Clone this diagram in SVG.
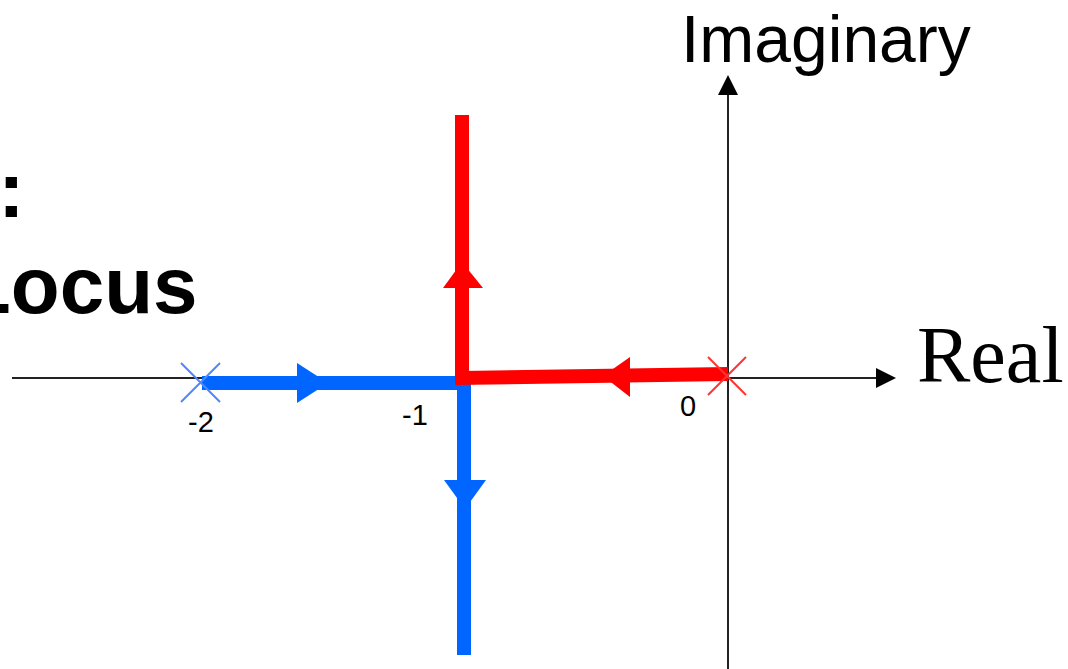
<svg xmlns="http://www.w3.org/2000/svg" width="1068" height="669" viewBox="0 0 1068 669">
<style>
.axis{stroke:#222;stroke-width:2;fill:none}
.ah{fill:#000}
.blue{stroke:#0066ff;stroke-width:14;fill:none;stroke-linecap:butt;stroke-linejoin:miter}
.red{stroke:#ff0000;stroke-width:14;fill:none;stroke-linecap:butt;stroke-linejoin:miter}
.bfill{fill:#0066ff}
.rfill{fill:#ff0000}
.tick{font-family:"Liberation Sans",Arial,sans-serif;font-size:29px;fill:#000}
</style>
<rect width="1068" height="669" fill="#fff"/>
<g id="axes">
  <line class="axis" x1="12" y1="378" x2="878" y2="378"/>
  <polygon class="ah" points="896,378 876,368 876,388"/>
  <line class="axis" x1="728" y1="669" x2="728" y2="92"/>
  <polygon class="ah" points="728,75 718,95 738,95"/>
</g>
<g id="title">
  <text x="-2" y="217" font-family="Liberation Sans,Arial,sans-serif" font-weight="bold" font-size="80" fill="#000">:</text>
  <text x="-38" y="313" font-family="Liberation Sans,Arial,sans-serif" font-weight="bold" font-size="80" fill="#000">Locus</text>
</g>
<g id="connectors">
  <g id="blue-locus">
    <polyline class="blue" points="202,383 464,383 464,655"/>
    <polygon class="bfill" points="297,363 328,383 297,403"/>
    <polygon class="bfill" points="444,480 486,480 465,509"/>
  </g>
  <g id="red-locus">
    <polyline class="red" points="728,374 462,378 462,115"/>
    <polygon class="rfill" points="603,376 630,357 630,397"/>
    <polygon class="rfill" points="443,288 483,288 462,262"/>
  </g>
</g>
<g id="pole-minus2">
  <path d="M181,363 L220,402 M220,363 L181,402" stroke="#4d88ff" stroke-width="2" fill="none"/>
</g>
<g id="pole-0">
  <path d="M708,357 L746,395 M746,357 L708,395" stroke="#ff3333" stroke-width="2" fill="none"/>
</g>
<g id="labels">
  <text class="tick" x="201" y="432" text-anchor="middle">-2</text>
  <text class="tick" x="415" y="425" text-anchor="middle">-1</text>
  <text class="tick" x="688" y="416" text-anchor="middle">0</text>
  <text x="681" y="62" font-family="Liberation Sans,Arial,sans-serif" font-size="66" fill="#000">Imaginary</text>
  <text x="917" y="382" font-family="Liberation Serif,Times New Roman,serif" font-size="80" fill="#000">Real</text>
</g>
</svg>
